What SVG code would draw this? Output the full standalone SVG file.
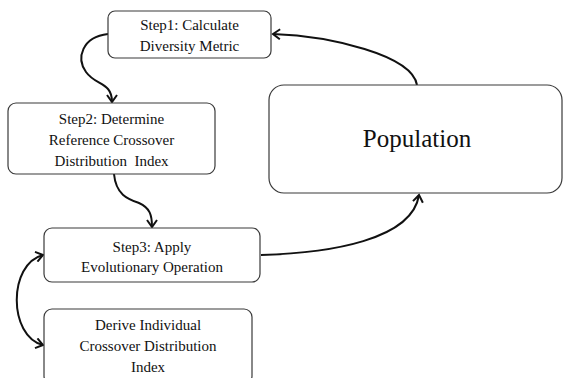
<svg xmlns="http://www.w3.org/2000/svg" width="563" height="378" viewBox="0 0 563 378">
<style>
.box{fill:#fff;stroke:#3a3a3a;stroke-width:1.2}
.lbl{font-family:'Liberation Serif','Times New Roman',serif;font-size:15px;fill:#111;text-anchor:middle}
.big{font-size:25px}
.c{fill:none;stroke:#111;stroke-width:2}
</style>
<defs>
<marker id="a" markerWidth="12" markerHeight="12" refX="9" refY="6" orient="auto" markerUnits="userSpaceOnUse">
<path d="M2,1 L9,6 L2,11" fill="none" stroke="#111" stroke-width="2"/>
</marker>
<marker id="s" markerWidth="12" markerHeight="12" refX="9" refY="6" orient="auto-start-reverse" markerUnits="userSpaceOnUse">
<path d="M2,1 L9,6 L2,11" fill="none" stroke="#111" stroke-width="2"/>
</marker>
</defs>
<g id="connectors">
<path class="c" d="M417,85 C412,55 330,36 273,34" marker-end="url(#a)"/>
<path class="c" d="M108,34 C82,37 76,58 86,72 C96,86 112,82 112,102" marker-end="url(#a)"/>
<path class="c" d="M114,174 C116,195 128,199 139,203 C150,208 152,215 152,227" marker-end="url(#a)"/>
<path class="c" d="M261,255 C330,253 412,240 419,195" marker-end="url(#a)"/>
<path class="c" d="M43,255 C8,264 8,336 43,345" marker-start="url(#s)" marker-end="url(#a)"/>
</g>
<g id="step1">
<rect class="box" x="108" y="11" width="163" height="47" rx="7"/>
<text class="lbl" x="189.5" y="30">Step1: Calculate</text>
<text class="lbl" x="189.5" y="51">Diversity Metric</text>
</g>
<g id="step2">
<rect class="box" x="8" y="103" width="207" height="71" rx="8"/>
<text class="lbl" x="111.5" y="124">Step2: Determine</text>
<text class="lbl" x="111.5" y="145">Reference Crossover</text>
<text class="lbl" x="111.5" y="166" xml:space="preserve">Distribution  Index</text>
</g>
<g id="step3">
<rect class="box" x="44" y="228" width="216" height="54" rx="8"/>
<text class="lbl" x="152" y="252">Step3: Apply</text>
<text class="lbl" x="152" y="272">Evolutionary Operation</text>
</g>
<g id="derive">
<rect class="box" x="44" y="309" width="208" height="75" rx="8"/>
<text class="lbl" x="148" y="330">Derive Individual</text>
<text class="lbl" x="148" y="351">Crossover Distribution</text>
<text class="lbl" x="148" y="372">Index</text>
</g>
<g id="population">
<rect class="box" x="269" y="85" width="293" height="108" rx="15"/>
<text class="lbl big" x="417" y="147">Population</text>
</g>
</svg>
